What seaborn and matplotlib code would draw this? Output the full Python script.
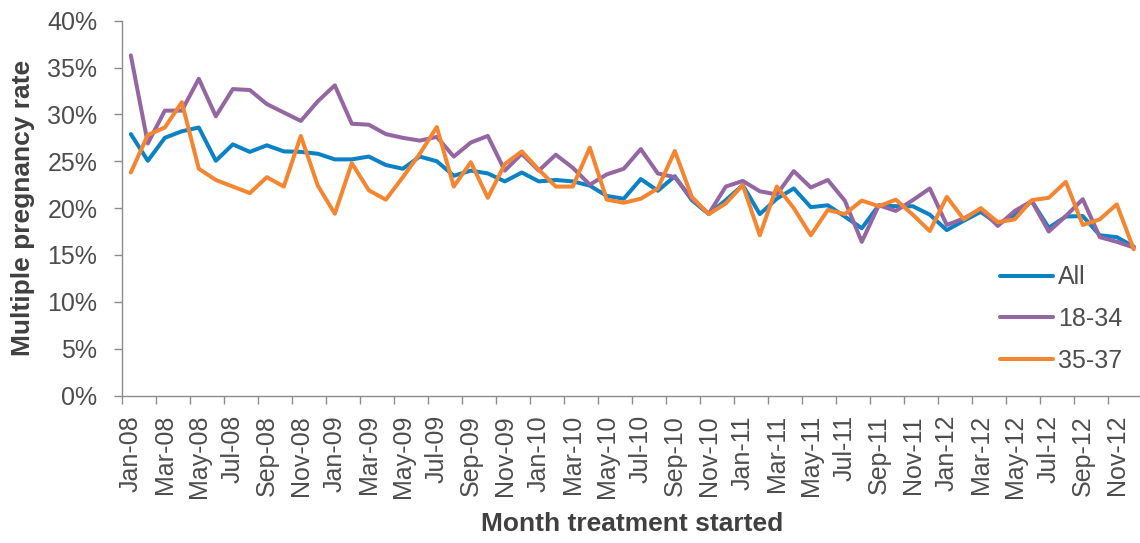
import numpy as np
import pandas as pd
import seaborn as sns
import matplotlib.pyplot as plt
from matplotlib.ticker import PercentFormatter, FixedLocator, FixedFormatter

month_names = ['Jan', 'Feb', 'Mar', 'Apr', 'May', 'Jun',
               'Jul', 'Aug', 'Sep', 'Oct', 'Nov', 'Dec']
years = ['08', '09', '10', '11', '12']
months = ['{}-{}'.format(m, y) for y in years for m in month_names]

# multiple pregnancy rate (%), Jan-08 .. Dec-12
rate_all = [27.9, 25.05, 27.5, 28.2, 28.6, 25.05, 26.8, 26.0, 26.7, 26.05,
            26.0, 25.8, 25.2, 25.2, 25.5, 24.6, 24.2, 25.5, 25.0, 23.45,
            24.0, 23.7, 22.85, 23.8, 22.85, 23.0, 22.85, 22.4, 21.3, 21.0,
            23.1, 21.85, 23.4, 20.85, 19.36, 20.85, 22.45, 19.36, 21.0, 22.1,
            20.1, 20.3, 19.1, 17.85, 20.3, 20.2, 20.2, 19.3, 17.65, 18.65,
            19.6, 18.3, 19.2, 20.75, 17.9, 19.1, 19.15, 17.1, 16.9, 15.9]
rate_18_34 = [36.3, 26.9, 30.4, 30.4, 33.8, 29.8, 32.7, 32.6, 31.1, 30.2,
              29.3, 31.4, 33.1, 29.0, 28.9, 27.9, 27.5, 27.2, 27.6, 25.5,
              27.0, 27.7, 24.0, 25.8, 24.0, 25.7, 24.3, 22.5, 23.6, 24.2,
              26.3, 23.7, 23.3, 21.0, 19.4, 22.3, 22.9, 21.8, 21.45, 23.95,
              22.2, 23.0, 20.8, 16.4, 20.3, 19.7, 20.85, 22.1, 18.2, 18.9,
              19.9, 18.1, 19.7, 20.75, 17.5, 19.15, 20.95, 16.9, 16.4, 15.8]
rate_35_37 = [23.8, 27.8, 28.6, 31.3, 24.2, 23.0, 22.3, 21.6, 23.3, 22.3,
              27.7, 22.4, 19.4, 24.8, 21.9, 20.9, 23.3, 25.8, 28.65, 22.3,
              24.9, 21.1, 24.7, 26.05, 24.1, 22.3, 22.3, 26.45, 20.9, 20.57,
              21.0, 22.1, 26.1, 21.2, 19.36, 20.5, 22.45, 17.1, 22.3, 20.0,
              17.1, 19.8, 19.36, 20.8, 20.2, 20.9, 19.3, 17.55, 21.2, 18.8,
              20.0, 18.5, 18.8, 20.85, 21.1, 22.8, 18.2, 18.8, 20.4, 15.6]

groups = ['All', '18-34', '35-37']
colors = ['#0c82c6', '#9467a2', '#f58631']

df = pd.DataFrame({
    'pos': list(range(len(months))) * 3,
    'group': [g for g in groups for _ in months],
    'rate': rate_all + rate_18_34 + rate_35_37,
})

sns.set_theme(style='ticks')
plt.rcParams['font.family'] = ['Liberation Sans', 'DejaVu Sans']

fig = plt.figure(figsize=(11.4, 5.43), dpi=100)
ax = fig.add_axes([0.1073, 0.2716, 0.8947, 0.6903])

sns.lineplot(data=df, x='pos', y='rate', hue='group', hue_order=groups,
             palette=colors, linewidth=2.9, ax=ax)

axis_grey = '#8c8c8c'
tick_col = '#4d4d4d'
label_col = '#404040'

sns.despine(ax=ax)
for side in ['left', 'bottom']:
    ax.spines[side].set_color(axis_grey)
    ax.spines[side].set_linewidth(1.0)

ax.set_ylim(0, 40)
ax.set_yticks(np.arange(0, 41, 5))
ax.yaxis.set_major_formatter(PercentFormatter(100, decimals=0))
ax.tick_params(axis='y', length=6, width=1, color=axis_grey,
               labelcolor=tick_col, labelsize=18, pad=12)

# ticks between categories, labels on every second month
ax.set_xlim(-0.5, len(months) - 0.5)
ax.xaxis.set_major_locator(FixedLocator(np.arange(-0.5, len(months), 2)))
ax.xaxis.set_major_formatter(FixedFormatter([''] * 31))
ax.xaxis.set_minor_locator(FixedLocator(np.arange(0, len(months), 2)))
ax.xaxis.set_minor_formatter(FixedFormatter(months[::2]))
ax.tick_params(axis='x', which='major', length=6, width=1, color=axis_grey)
ax.tick_params(axis='x', which='minor', length=0, labelcolor=tick_col,
               labelsize=18, pad=14, labelrotation=90)

ax.set_xlabel('Month treatment started', fontsize=19, fontweight='bold',
              color=label_col)
ax.xaxis.set_label_coords(0.5, -0.312)
ax.set_ylabel('Multiple pregnancy rate', fontsize=19, fontweight='bold',
              color=label_col)
ax.yaxis.set_label_coords(-0.0856, 0.5)

ax.legend(title=None, frameon=False, loc='center left',
          bbox_to_anchor=(1000 / 1140, 1 - 319 / 543),
          bbox_transform=fig.transFigure, borderpad=0, borderaxespad=0,
          handlelength=2.1, handletextpad=0.22, labelspacing=0.7,
          prop={'size': 18}, labelcolor=tick_col)

plt.savefig('out.png', dpi=100)
plt.close('all')
